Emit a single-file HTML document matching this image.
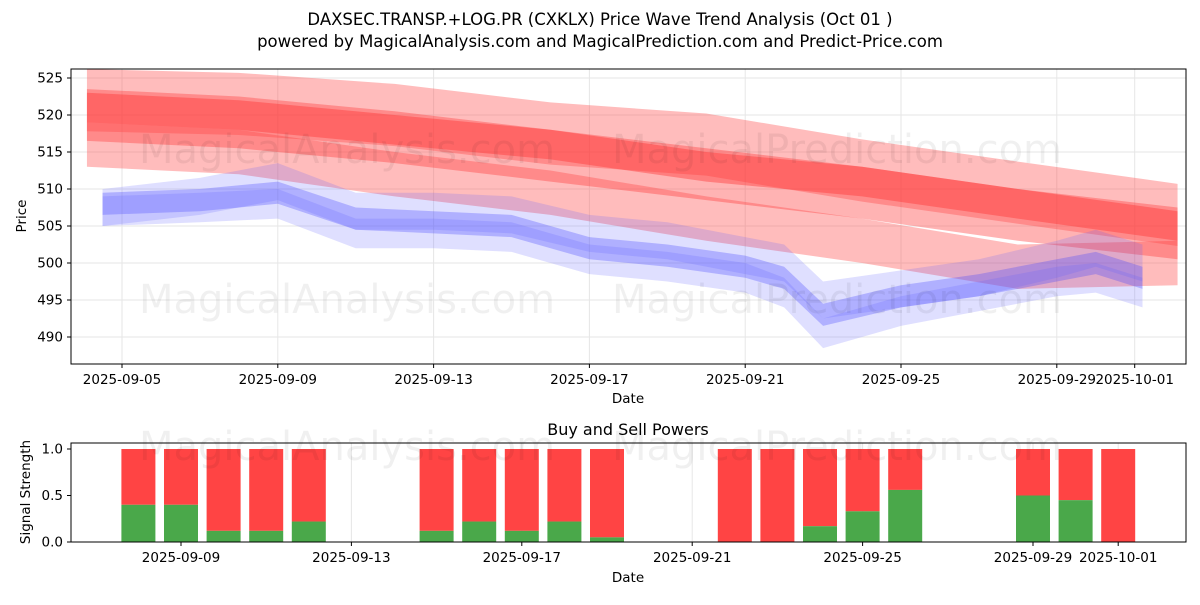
<!DOCTYPE html>
<html><head><meta charset="utf-8"><style>
body{margin:0;background:#fff;font-family:"Liberation Sans","DejaVu Sans",sans-serif}
svg text{font-family:"DejaVu Sans","Liberation Sans",sans-serif}
</style></head><body>
<svg id="c" width="1200" height="600" viewBox="0 0 1200 600" xmlns="http://www.w3.org/2000/svg">
<text x="600" y="25" text-anchor="middle" font-size="16.5">DAXSEC.TRANSP.+LOG.PR (CXKLX) Price Wave Trend Analysis (Oct 01 )</text>
<text x="600" y="47" text-anchor="middle" font-size="16.5">powered by MagicalAnalysis.com and MagicalPrediction.com and Predict-Price.com</text>
<g id="main"></g>
<g id="sub"></g>
</svg>
<script>
// ---- data ----
const priceTicks=[490,495,500,505,510,515,520,525];
const dateTickLabels=["2025-09-05","2025-09-09","2025-09-13","2025-09-17","2025-09-21","2025-09-25","2025-09-29","2025-10-01"];
const dateTickDays=[0,4,8,12,16,20,24,26];
const redDays=[-0.9,3,7,11,15,19,23,27.1];
const red1=[522,521.5,520,517.5,516,512.5,509.5,506.5];
const red2=[520,519,517,514.5,512,509.5,506.5,504];
const red3=[521,520,518,516,513,511,508,505];
const red4=[516,515,512,509.5,506,503,499.5,500];
const blueDays=[-0.5,2,4,6,8,10,12,14,16,17,18,20,22,24,25,26.2];
const blue1=[508,508.5,509.5,506,505.5,505,502,501,499.5,498,493,495.5,497,499,500,498];
const blue2=[507.5,509,511,507,507,506.5,504,503,501,500,495,496.5,498,500.5,502,500];
const blue3=[507,507.5,508,504,504,503.5,500.5,499.5,498,496,490.5,493.5,495.5,497.5,498,496];
const barDays=[3,4,5,6,7,10,11,12,13,14,17,18,19,20,21,24,25,26];
const buyPower=[0.4,0.4,0.12,0.12,0.22,0.12,0.22,0.12,0.22,0.05,0,0,0.17,0.33,0.56,0.5,0.45,0];
const sigTicks=[0,0.5,1.0];
const sigTickLabels=["2025-09-09","2025-09-13","2025-09-17","2025-09-21","2025-09-25","2025-09-29","2025-10-01"];
const sigTickDays=[4,8,12,16,20,24,26];
// ---- helpers ----
const NS="http://www.w3.org/2000/svg";
function mk(t,a,p){const e=document.createElementNS(NS,t);for(const k in a)e.setAttribute(k,a[k]);p.appendChild(e);return e;}
const X=d=>122+d*38.95, Y=v=>78+(525-v)*7.4;
const X2=d=>181+(d-4)*42.6, Y2=v=>542-v*93;
const main=document.getElementById('main'), sub=document.getElementById('sub');
priceTicks.forEach(v=>{
 const l=mk('line',{x1:71,x2:1186,y1:Y(v),y2:Y(v),stroke:'#e6e6e6'},main);
 
 mk('line',{x1:67,x2:71,y1:Y(v),y2:Y(v),stroke:'#000'},main);
 const t=mk('text',{x:63,y:Y(v)+4.5,'text-anchor':'end','font-size':13.5},main);t.textContent=v;
 
});
dateTickDays.forEach((d,i)=>{
 mk('line',{x1:X(d),x2:X(d),y1:69,y2:364,stroke:'#e6e6e6'},main);
 mk('line',{x1:X(d),x2:X(d),y1:364,y2:368,stroke:'#000'},main);
 const t=mk('text',{x:X(d),y:384,'text-anchor':'middle','font-size':13.5},main);t.textContent=dateTickLabels[i];
 
});
function band(days,vals,hw,color,op,name){
 let pts=days.map((d,i)=>X(d)+','+Y(vals[i]+hw));
 pts=pts.concat(days.map((d,i)=>X(d)+','+Y(vals[i]-hw)).reverse());
 const p=mk('polygon',{points:pts.join(' '),fill:color,'fill-opacity':op},main);
 
}
band(redDays,red1,4.2,'#ff4040',0.35,'red-wave-1');
band(redDays,red2,3.5,'#ff4040',0.4,'red-wave-2');
band(redDays,red3,2,'#ff3030',0.4,'red-wave-3');
band(redDays,red4,3,'#ff4040',0.35,'red-wave-4');
band(blueDays,blue1,1.5,'#4040ff',0.3,'blue-wave-1');
band(blueDays,blue2,2.5,'#6060ff',0.2,'blue-wave-2');
band(blueDays,blue3,2,'#6060ff',0.2,'blue-wave-3');
mk('rect',{x:71,y:69,width:1115,height:295,fill:'none',stroke:'#000'},main);
[['MagicalAnalysis.com',347,163],['MagicalPrediction.com',837,163],['MagicalAnalysis.com',347,313],['MagicalPrediction.com',837,313]].forEach(w=>{
 const t=mk('text',{x:w[1],y:w[2],'text-anchor':'middle','font-size':40,fill:'#000','fill-opacity':0.06},main);t.textContent=w[0];
 
});
let t=mk('text',{x:628,y:403,'text-anchor':'middle','font-size':13.5},main);t.textContent='Date';
t=mk('text',{x:26,y:216,'text-anchor':'middle','font-size':13.5,transform:'rotate(-90 26 216)'},main);t.textContent='Price';
sigTicks.forEach(v=>{
 mk('line',{x1:67,x2:71,y1:Y2(v),y2:Y2(v),stroke:'#000'},sub);
 const t=mk('text',{x:63,y:Y2(v)+4.5,'text-anchor':'end','font-size':13.5},sub);t.textContent=v.toFixed(1);
 
});
sigTickDays.forEach((d,i)=>{
 mk('line',{x1:X2(d),x2:X2(d),y1:443,y2:542,stroke:'#e6e6e6'},sub);
 mk('line',{x1:X2(d),x2:X2(d),y1:542,y2:546,stroke:'#000'},sub);
 const t=mk('text',{x:X2(d),y:562,'text-anchor':'middle','font-size':13.5},sub);t.textContent=sigTickLabels[i];
 
});
barDays.forEach((d,i)=>{
 const b=buyPower[i];
 const r=mk('rect',{x:X2(d)-17,y:Y2(1),width:34,height:Y2(b)-Y2(1),fill:'#ff4444'},sub);
 
 const g=mk('rect',{x:X2(d)-17,y:Y2(b),width:34,height:Y2(0)-Y2(b),fill:'#4aa84a'},sub);
 
});
[['MagicalAnalysis.com',347,460],['MagicalPrediction.com',837,460]].forEach(w=>{
 const t=mk('text',{x:w[1],y:w[2],'text-anchor':'middle','font-size':40,fill:'#000','fill-opacity':0.06},sub);t.textContent=w[0];
});
mk('rect',{x:71,y:443,width:1115,height:99,fill:'none',stroke:'#000'},sub);
t=mk('text',{x:628,y:435,'text-anchor':'middle','font-size':16},sub);t.textContent='Buy and Sell Powers';
t=mk('text',{x:628,y:582,'text-anchor':'middle','font-size':13.5},sub);t.textContent='Date';
t=mk('text',{x:30,y:492,'text-anchor':'middle','font-size':13.5,transform:'rotate(-90 30 492)'},sub);t.textContent='Signal Strength';
</script>
</body></html>
